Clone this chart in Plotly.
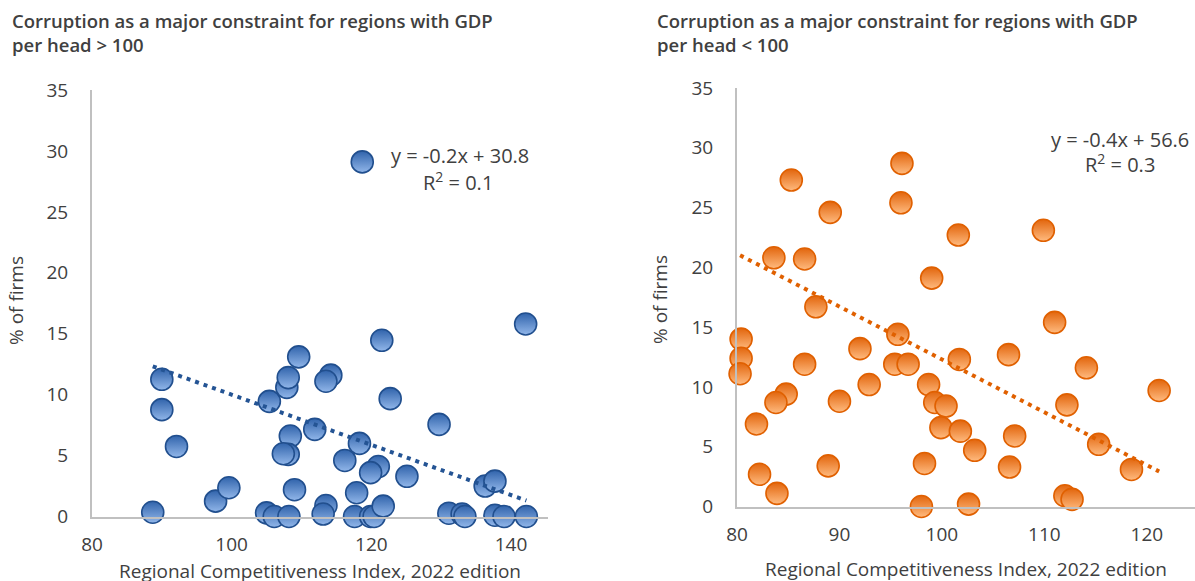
import plotly.graph_objects as go

# ---------------- data ----------------
left_x = [88.7, 90.0, 90.0, 92.1, 97.7, 99.6, 105.0, 106.1, 108.2, 105.4, 107.9, 108.1,
          109.6, 108.4, 108.1, 107.4, 109.0, 111.9, 113.5, 113.1, 114.2, 113.5, 116.2,
          117.9, 117.6, 118.3, 119.9, 120.4, 121.0, 119.9, 121.7, 121.5, 122.7, 125.1,
          129.7, 131.1, 133.0, 133.4, 136.3, 137.7, 137.7, 139.0, 142.2, 142.1, 118.7]
left_y = [0.35, 11.26, 8.77, 5.75, 1.26, 2.36, 0.3, 0.0, 0.0, 9.45, 10.6, 11.4,
          13.1, 6.6, 5.1, 5.15, 2.2, 7.15, 0.9, 0.2, 11.6, 11.1, 4.6,
          1.95, 0.0, 6.0, 0.0, 0.0, 4.1, 3.6, 0.85, 14.46, 9.67, 3.3,
          7.56, 0.27, 0.2, 0.0, 2.5, 2.9, 0.1, 0.0, 0.0, 15.8, 29.1]

right_x = [85.3, 96.1, 96.0, 89.1, 101.6, 109.9, 83.6, 86.6, 99.0, 87.7, 111.0, 80.4,
           80.4, 80.3, 95.7, 92.0, 106.5, 101.7, 86.6, 95.4, 96.7, 114.1, 92.9, 98.7,
           121.2, 84.8, 83.8, 90.0, 99.3, 100.4, 112.2, 81.9, 99.9, 101.8, 107.1, 103.2,
           115.3, 98.3, 88.9, 106.6, 118.5, 82.2, 83.9, 112.0, 112.7, 98.0, 102.6]
right_y = [27.3, 28.7, 25.4, 24.6, 22.7, 23.1, 20.8, 20.7, 19.1, 16.7, 15.4, 14.0,
           12.4, 11.1, 14.4, 13.2, 12.7, 12.3, 11.9, 11.9, 11.9, 11.6, 10.2, 10.2,
           9.7, 9.4, 8.7, 8.8, 8.7, 8.4, 8.5, 6.9, 6.6, 6.3, 5.9, 4.7,
           5.2, 3.6, 3.4, 3.3, 3.1, 2.7, 1.1, 0.9, 0.6, 0.0, 0.2]

# linear trend coefficients
left_trend = (-0.206, 30.6)
right_trend = (-0.442, 56.5)

left_title = "Corruption as a major constraint for regions with GDP<br>per head > 100"
right_title = "Corruption as a major constraint for regions with GDP<br>per head < 100"
left_eq = ["y = -0.2x + 30.8", "R<sup>2</sup> = 0.1"]
right_eq = ["y = -0.4x + 56.6", "R<sup>2</sup> = 0.3"]
x_title = "Regional Competitiveness Index, 2022 edition"
y_title = "% of firms"
left_xticks = [80, 100, 120, 140]
right_xticks = [80, 90, 100, 110, 120]
yticks = [0, 5, 10, 15, 20, 25, 30, 35]

# ---------------- layout helpers ----------------
W, H = 1195, 581
FONT = "Open Sans"
TXT = "#404040"


def px(x):
    return x / W


def py(y):
    return 1 - y / H


fig = go.Figure()


def trend_line(xs, coef):
    lo, hi = min(xs), max(xs)
    return [lo, hi], [coef[0] * lo + coef[1], coef[0] * hi + coef[1]]


# left scatter
fig.add_trace(go.Scatter(
    x=left_x, y=left_y, mode="markers", xaxis="x", yaxis="y", cliponaxis=False,
    marker=dict(size=22, color="#3063ab", gradient=dict(type="vertical", color="#92b7ea"),
                line=dict(color="#214f8e", width=1.6)),
    showlegend=False, hoverinfo="x+y"))
tx, ty = trend_line(left_x, left_trend)
fig.add_trace(go.Scatter(
    x=tx, y=ty, mode="lines", xaxis="x", yaxis="y",
    line=dict(color="#245494", width=4, dash="4px,5px"), showlegend=False))

# right scatter
fig.add_trace(go.Scatter(
    x=right_x, y=right_y, mode="markers", xaxis="x2", yaxis="y2", cliponaxis=False,
    marker=dict(size=22, color="#e2650c", gradient=dict(type="vertical", color="#ffbb80"),
                line=dict(color="#e06000", width=1.6)),
    showlegend=False, hoverinfo="x+y"))
tx, ty = trend_line(right_x, right_trend)
fig.add_trace(go.Scatter(
    x=tx, y=ty, mode="lines", xaxis="x2", yaxis="y2",
    line=dict(color="#e06000", width=4, dash="4px,5px"), showlegend=False))

axis_common = dict(showgrid=False, zeroline=False, showline=True, linecolor="#c0c0c0",
                   linewidth=2, ticks="", tickfont=dict(family=FONT, size=19, color=TXT),
                   fixedrange=True)

fig.update_layout(
    width=W, height=H, margin=dict(l=0, r=0, t=0, b=0, autoexpand=False),
    paper_bgcolor="white", plot_bgcolor="white",
    xaxis=dict(domain=[px(92), px(548)], range=[80, 145.3], tickvals=left_xticks,
               anchor="y", ticklabelstandoff=10, **axis_common),
    yaxis=dict(domain=[py(516.5), py(90)], range=[0, 35], tickvals=yticks,
               anchor="x", ticklabelstandoff=18, **axis_common),
    xaxis2=dict(domain=[px(737), 1.0], range=[80, 124.7], tickvals=right_xticks,
                anchor="y2", ticklabelstandoff=10, **axis_common),
    yaxis2=dict(domain=[py(506.5), py(88)], range=[0, 35], tickvals=yticks,
                anchor="x2", ticklabelstandoff=18, **axis_common),
)

ann = []


def text(x, y, s, size=19, bold=False, xanchor="center", yanchor="middle", angle=0, align="left"):
    ann.append(dict(x=px(x), y=py(y), xref="paper", yref="paper", text=s, showarrow=False,
                    xanchor=xanchor, yanchor=yanchor, textangle=angle, align=align,
                    font=dict(family=FONT, size=size, color=TXT,
                              weight=600 if bold else "normal")))


text(10, 6, left_title, size=18.5, bold=True, xanchor="left", yanchor="top")
text(655, 6, right_title, size=18.5, bold=True, xanchor="left", yanchor="top")
text(460, 155, left_eq[0], size=20)
text(458, 181, left_eq[1], size=20)
text(1120, 139, right_eq[0], size=20)
text(1120, 163, right_eq[1], size=20)
text(320, 571, x_title)
text(966, 569, x_title)
text(16, 301, y_title, angle=-90)
text(660, 300, y_title, angle=-90)

fig.update_layout(annotations=ann)
fig.write_html("out.html", config={"displayModeBar": False},
               post_script="document.body.style.margin='0';")
